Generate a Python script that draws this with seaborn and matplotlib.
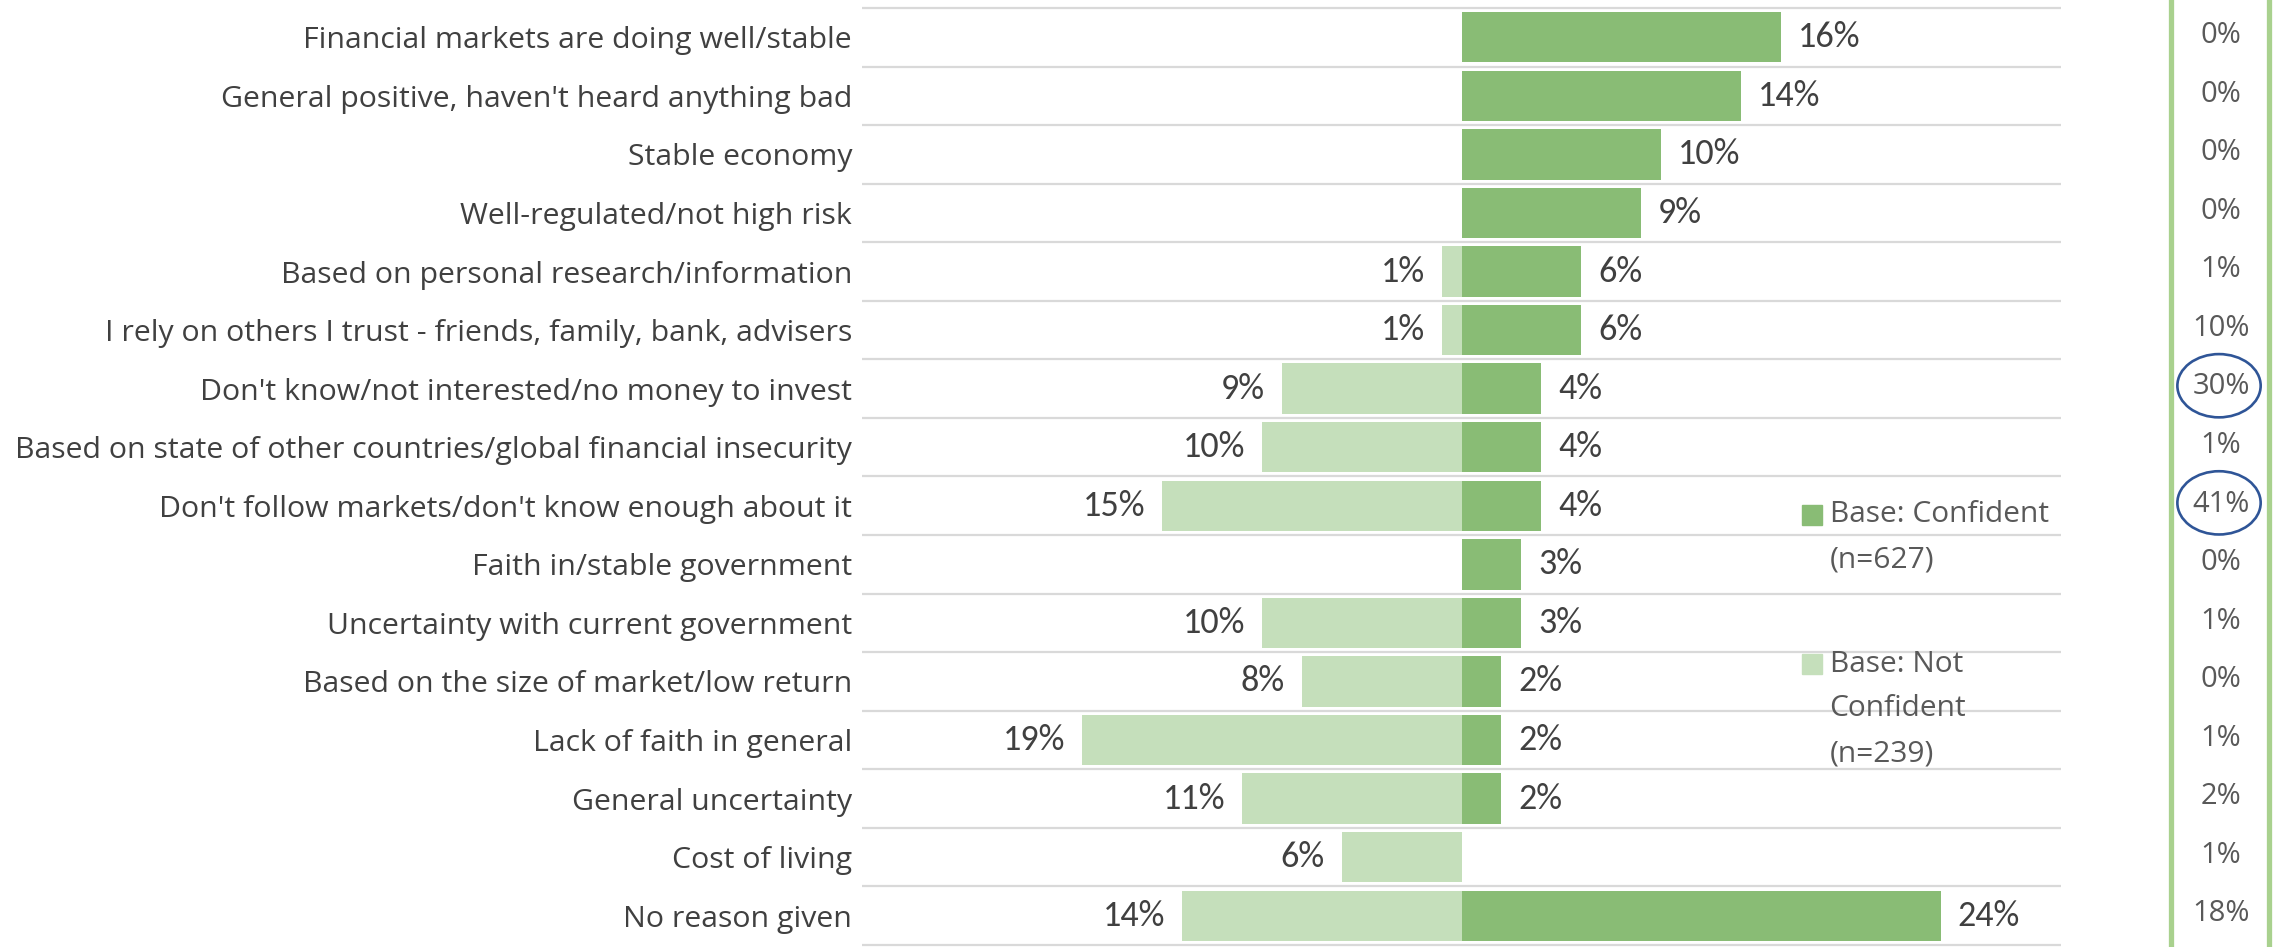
import numpy as np
import pandas as pd
import seaborn as sns
import matplotlib.pyplot as plt
import matplotlib.transforms as mtransforms
from matplotlib.patches import Ellipse, Rectangle
from matplotlib import font_manager

# ---- data -------------------------------------------------------------
reasons = [
    "Financial markets are doing well/stable",
    "General positive, haven't heard anything bad",
    "Stable economy",
    "Well-regulated/not high risk",
    "Based on personal research/information",
    "I rely on others I trust - friends, family, bank, advisers",
    "Don't know/not interested/no money to invest",
    "Based on state of other countries/global financial insecurity",
    "Don't follow markets/don't know enough about it",
    "Faith in/stable government",
    "Uncertainty with current government",
    "Based on the size of market/low return",
    "Lack of faith in general",
    "General uncertainty",
    "Cost of living",
    "No reason given",
]
confident = [16, 14, 10, 9, 6, 6, 4, 4, 4, 3, 3, 2, 2, 2, 0, 24]
not_confident = [0, 0, 0, 0, 1, 1, 9, 10, 15, 0, 10, 8, 19, 11, 6, 14]
side_column = [0, 0, 0, 0, 1, 10, 30, 1, 41, 0, 1, 0, 1, 2, 1, 18]
circled = [30, 41]
legend_labels = [
    ["Base: Confident", "(n=627)"],
    ["Base: Not", "Confident", "(n=239)"],
]

# ---- style ------------------------------------------------------------
sns.set_theme(style="white")
plt.rcParams["font.family"] = ["Open Sans", "DejaVu Sans"]

available = {f.name for f in font_manager.fontManager.ttflist}
value_font = next(
    (f for f in ["Carlito", "Liberation Sans Narrow", "Lato"] if f in available),
    "Open Sans",
)

C_CONF = "#89BC75"
C_NOT = "#C5DFBB"
C_GRID = "#D9D9D9"
C_TEXT = "#404040"
C_SIDE = "#595959"
C_FRAME = "#A9D18E"
C_RING = "#2F5597"

W, H = 2279, 947
fig = plt.figure(figsize=(W / 100, H / 100), dpi=100)
ax = fig.add_axes([862 / W, 2 / H, (2061 - 862) / W, 937 / H])

df = pd.DataFrame({
    "reason": reasons,
    "confident": confident,
    "not_confident": [-v for v in not_confident],
})

sns.barplot(data=df, y="reason", x="confident", orient="y", color=C_CONF,
            saturation=1, width=0.86, errorbar=None, edgecolor="none", ax=ax)
sns.barplot(data=df, y="reason", x="not_confident", orient="y", color=C_NOT,
            saturation=1, width=0.86, errorbar=None, edgecolor="none", ax=ax)

ax.bar_label(ax.containers[0],
             labels=[f"{v}%" if v else "" for v in confident],
             padding=12, fontsize=26, color=C_TEXT, family=value_font)
ax.bar_label(ax.containers[1],
             labels=[f"{v}%" if v else "" for v in not_confident],
             padding=12, fontsize=26, color=C_TEXT, family=value_font)

ax.set_xlim(-30, 30)
ax.set_ylim(len(reasons) - 0.5, -0.5)
ax.set_xlabel("")
ax.set_ylabel("")
ax.set_xticks([])
ax.tick_params(axis="y", length=0, pad=7.2, labelsize=21.8, labelcolor=C_TEXT)
for s in ax.spines.values():
    s.set_visible(False)

# row separators
ax.hlines(np.arange(-0.5, len(reasons)), 0, 1, transform=ax.get_yaxis_transform(),
          colors=C_GRID, lw=1.6, clip_on=False, zorder=0.5)

# legend
lx_box, lx_txt = 0.784, 0.807
box_w, box_h = 20 / 1199, 20 / 937
line_step = 45 / 937
entry_tops = [(945 - 515) / 937, (945 - 664) / 937]
for color, lines, y0 in zip([C_CONF, C_NOT], legend_labels, entry_tops):
    ax.add_patch(Rectangle((lx_box, y0 - box_h / 2), box_w, box_h,
                           transform=ax.transAxes, color=color, clip_on=False))
    for k, line in enumerate(lines):
        ax.text(lx_txt, y0 - k * line_step, line, transform=ax.transAxes,
                ha="left", va="center", fontsize=21.5, color=C_SIDE)

# side column framed by green rules
ax2 = fig.add_axes([2171 / W, 0, 98 / W, 1])
ax2.set_xlim(0, 1)
ax2.set_xticks([])
ax2.set_yticks([])
ax2.patch.set_alpha(0)
for side in ["top", "bottom"]:
    ax2.spines[side].set_visible(False)
for side in ["left", "right"]:
    ax2.spines[side].set_color(C_FRAME)
    ax2.spines[side].set_linewidth(3.8)

trans = mtransforms.blended_transform_factory(ax2.transAxes, ax.transData)
for i, v in enumerate(side_column):
    ax2.text(0.51, i - 0.03, f"{v}%", transform=trans, ha="center", va="center",
             fontsize=21, color=C_SIDE)
    if v in circled:
        ax2.add_patch(Ellipse((0.49, i - 0.05), 0.85, 1.08, transform=trans,
                              fill=False, ec=C_RING, lw=1.9, clip_on=False))

fig.savefig("out.png", dpi=100, facecolor="white")
